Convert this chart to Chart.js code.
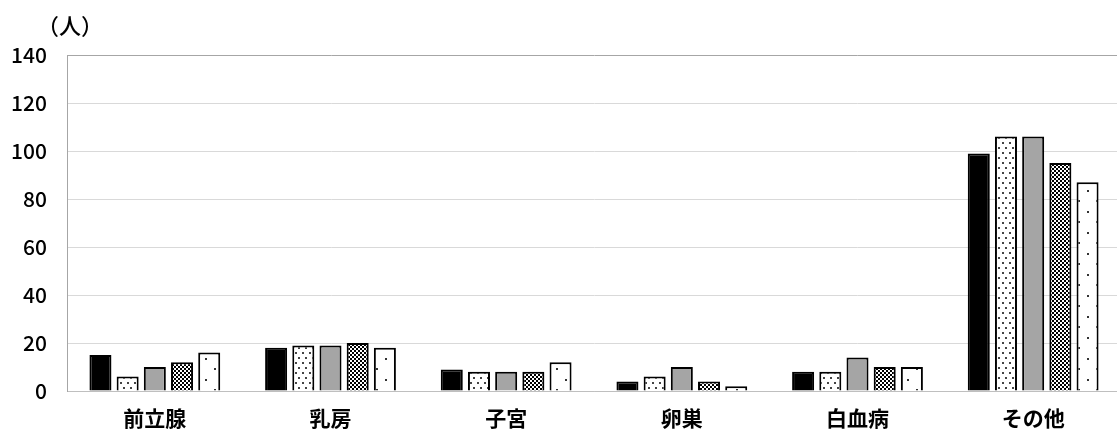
<!DOCTYPE html>
<html>
<head>
<meta charset="utf-8">
<script src="https://cdn.jsdelivr.net/npm/chart.js@4/dist/chart.umd.min.js"></script>
<style>
  html, body { margin: 0; padding: 0; background: #fff; overflow: hidden; }
  #wrap { width: 1121px; height: 433px; position: relative; }
</style>
</head>
<body>
<div id="wrap"><canvas id="chart"></canvas></div>
<script>
var categories = ['前立腺', '乳房', '子宮', '卵巣', '白血病', 'その他'];
var seriesNames = ['系列1', '系列2', '系列3', '系列4', '系列5'];
var series1 = [15, 18, 9, 4, 8, 99];
var series2 = [6, 19, 8, 6, 8, 106];
var series3 = [10, 19, 8, 10, 14, 106];
var series4 = [12, 20, 8, 4, 10, 95];
var series5 = [16, 18, 12, 2, 10, 87];
var yTicks = [0, 20, 40, 60, 80, 100, 120, 140];
var unitLabel = '（人）';

var FONT = '"Noto Sans CJK JP", "Noto Sans", sans-serif';

// small tiles used as bar fills
var makePattern = function(w, h, draw) {
    var c = document.createElement('canvas');
    c.width = w;
    c.height = h;
    var g = c.getContext('2d');
    g.fillStyle = '#fff';
    g.fillRect(0, 0, w, h);
    draw(g);
    return g.createPattern(c, 'repeat');
};

var dotted = makePattern(7, 10, function(g) {
    g.fillStyle = '#444';
    g.fillRect(1, 2, 2, 2);
    g.fillRect(4, 7, 2, 2);
});

var checker = makePattern(4, 4, function(g) {
    g.fillStyle = '#000';
    g.fillRect(0, 0, 2, 2);
    g.fillRect(2, 2, 2, 2);
});

var sparse = makePattern(18, 21, function(g) {
    g.fillStyle = '#333';
    g.fillRect(7, 1, 2, 2);
    g.fillRect(16, 11, 2, 2);
});

var unitText = {
    id: 'unitText',
    afterDraw: function(chart) {
        var ctx = chart.ctx;
        ctx.save();
        ctx.font = '500 22px ' + FONT;
        ctx.fillStyle = '#000';
        ctx.textBaseline = 'middle';
        ctx.textAlign = 'left';
        ctx.fillText(unitLabel, 37, 26);
        ctx.restore();
    }
};

var fills = [
    { bg: '#000', values: series1 },
    { bg: dotted, values: series2 },
    { bg: '#a5a5a5', values: series3 },
    { bg: checker, values: series4 },
    { bg: sparse, values: series5 }
];

var datasets = [];
for (var i = 0; i < fills.length; i++) {
    datasets.push({
        label: seriesNames[i],
        data: fills[i].values,
        backgroundColor: fills[i].bg,
        borderColor: '#000',
        borderWidth: 2,
        categoryPercentage: 0.774,
        barPercentage: 0.81
    });
}

new Chart(document.getElementById('chart'), {
    type: 'bar',
    data: { labels: categories, datasets: datasets },
    plugins: [unitText],
    options: {
        responsive: true,
        maintainAspectRatio: false,
        animation: false,
        layout: { padding: { top: 55, left: 0, right: 0, bottom: 0 } },
        plugins: {
            legend: { display: false },
            tooltip: { enabled: false }
        },
        scales: {
            x: {
                grid: { display: false },
                border: { color: '#bfbfbf', width: 1 },
                ticks: {
                    color: '#000',
                    padding: 6,
                    font: { family: FONT, size: 21, weight: 'bold' }
                },
                afterFit: function(scale) { scale.height = 42; }
            },
            y: {
                min: 0,
                max: 140,
                afterBuildTicks: function(scale) {
                    scale.ticks = yTicks.map(function(v) { return { value: v }; });
                },
                grid: {
                    drawTicks: false,
                    color: function(ctx) {
                        if (ctx.tick && ctx.tick.value === 140) return '#a6a6a6';
                        if (ctx.tick && ctx.tick.value === 0) return '#bfbfbf';
                        return '#d9d9d9';
                    },
                    lineWidth: 1
                },
                border: { color: '#a6a6a6', width: 1 },
                ticks: {
                    color: '#000',
                    padding: 20,
                    font: { family: FONT, size: 21, weight: '500' }
                },
                afterFit: function(scale) { scale.width = 67; }
            }
        }
    }
});
</script>
</body>
</html>
